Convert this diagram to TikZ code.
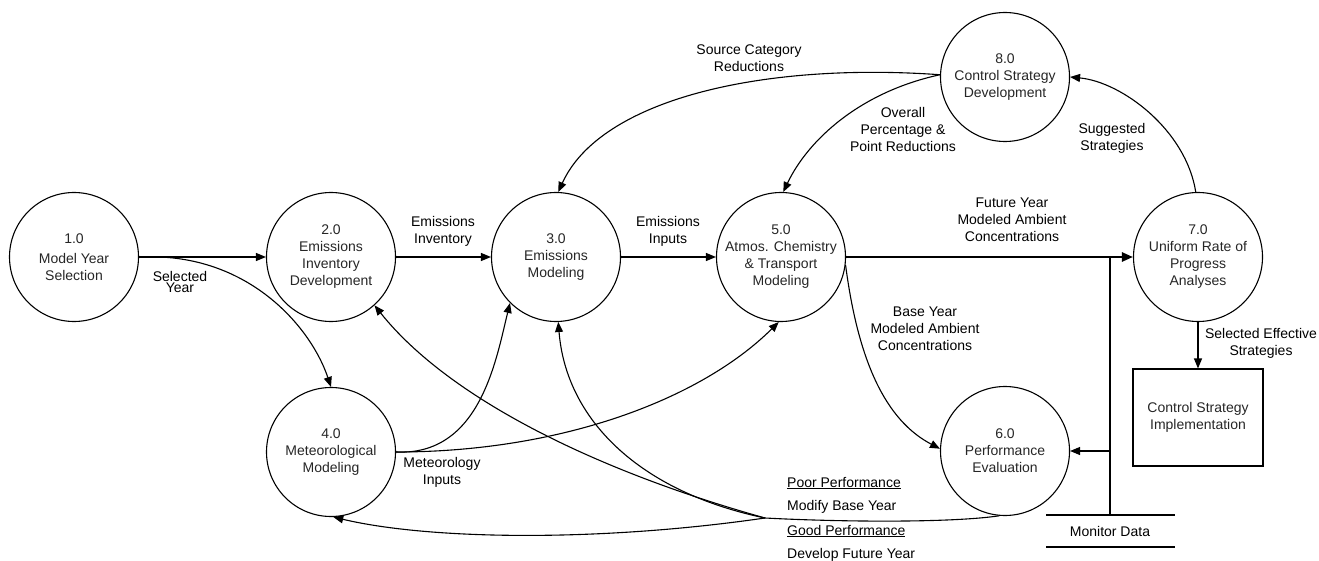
\documentclass[tikz,border=0pt]{standalone}
\usepackage{fontspec}
\setmainfont{Liberation Sans}
\usetikzlibrary{arrows.meta}
\begin{document}
\begin{tikzpicture}[x=1pt,y=-1pt,
  proc/.style={circle,draw,line width=1.1pt,minimum size=129pt,inner sep=0pt,align=center,font=\fontsize{14}{17}\selectfont,text=black!85},
  lbl/.style={align=center,font=\fontsize{14}{17}\selectfont,inner sep=0pt},
  tightlbl/.style={align=center,font=\fontsize{14}{11.5}\selectfont,inner sep=0pt},
  flow/.style={line width=1.1pt,-{Triangle[length=10pt,width=8pt]}},
  mainflow/.style={line width=2.5pt,-{Triangle[length=11pt,width=9pt]}},
  plain/.style={line width=1.1pt},
]
\useasboundingbox (0,0) rectangle (1319,561);

% processes
\node[proc] (n1) at (74,257) {1.0\\[3pt]Model Year\\Selection};
\node[proc] (n2) at (331,257) {2.0\\Emissions\\Inventory\\Development};
\node[proc] (n3) at (556,257) {3.0\\Emissions\\Modeling};
\node[proc] (n5) at (781,257) {5.0\\Atmos. Chemistry\\\& Transport\\Modeling};
\node[proc] (n7) at (1198,257) {7.0\\Uniform Rate of\\Progress\\Analyses};
\node[proc] (n8) at (1005,77) {8.0\\Control Strategy\\Development};
\node[proc] (n4) at (331,452) {4.0\\Meteorological\\Modeling};
\node[proc] (n6) at (1005,451) {6.0\\Performance\\Evaluation};
\node[draw,line width=1.1pt,minimum width=130pt,minimum height=97pt,inner sep=0pt,align=center,font=\fontsize{14}{17}\selectfont,text=black!85] (box) at (1198,417.5) {Control Strategy\\Implementation};

% helper coordinates
\coordinate (sy) at (160,257);
\coordinate (mj) at (1110,257);
\coordinate (md) at (1110,515);
\coordinate (m6) at (1110,451);
\coordinate (ma) at (1046,515);
\coordinate (mb) at (1175,515);
\coordinate (mc) at (1046,547);
\coordinate (me) at (1175,547);
\coordinate (J) at (765,518);

% straight flows
\draw[flow] (n1.east) -- (n2.west);
\draw[flow] (n2.east) -- (n3.west);
\draw[flow] (n3.east) -- (n5.west);
\draw[mainflow] (n5.east) -- (n7.west);
\draw[flow] (n7.south) -- (box.north);

% selected year to meteorological
\draw[flow] (sy) .. controls (255,261) and (312,330) .. (n4.north);

% control strategy loop
\draw[flow] (n7.92) .. controls (1186,130) and (1122,82) .. (n8.east);
\draw[flow] (n8.178) .. controls (760,62) and (600,100) .. (n3.88);
\draw[flow] (n8.178) .. controls (860,92) and (808,140) .. (n5.88);

% base year to performance evaluation
\draw[flow] (n5.-7) .. controls (858,360) and (885,420) .. (n6.178);

% meteorology inputs
\draw[flow] (n4.east) .. controls (480,456) and (496,360) .. (n3.-135);
\draw[flow] (n4.east) .. controls (560,452) and (700,400) .. (n5.-92);

% monitor data
\draw[plain] (mj) -- (md);
\draw[flow] (m6) -- (n6.east);
\draw[plain] (ma) -- (mb);
\draw[plain] (mc) -- (me);
\node[lbl] (lmd) at (1110,531) {Monitor Data};

% feedback from performance evaluation
\draw[plain] (n6.-95) .. controls (950,523) and (840,522) .. (J);
\draw[flow] (J) .. controls (600,542) and (430,540) .. (n4.-88);
\draw[flow] (J) .. controls (600,472) and (450,400) .. (n2.-48);
\draw[flow] (J) .. controls (640,492) and (566,420) .. (n3.-88);

% labels
\node[tightlbl] (lsy) at (180,282) {Selected\\Year};
\node[lbl] (lei) at (443,231) {Emissions\\Inventory};
\node[lbl] (lein) at (668,231) {Emissions\\Inputs};
\node[lbl] (lsc) at (749,58) {Source Category\\Reductions};
\node[lbl] (lop) at (903,129) {Overall\\Percentage \&\\Point Reductions};
\node[lbl] (lss) at (1112,138) {Suggested\\Strategies};
\node[lbl] (lfy) at (1012,220) {Future Year\\Modeled Ambient\\Concentrations};
\node[lbl] (lby) at (925,329) {Base Year\\Modeled Ambient\\Concentrations};
\node[lbl] (lse) at (1261,343) {Selected Effective\\Strategies};
\node[lbl] (lmi) at (442,472) {Meteorology\\Inputs};
\node[lbl,anchor=west] (lpp) at (787,483) {\underline{Poor Performance}};
\node[lbl,anchor=west] (lmb) at (787,507) {Modify Base Year};
\node[lbl,anchor=west] (lgp) at (787,531) {\underline{Good Performance}};
\node[lbl,anchor=west] (ldf) at (787,555) {Develop Future Year};
\end{tikzpicture}
\end{document}
